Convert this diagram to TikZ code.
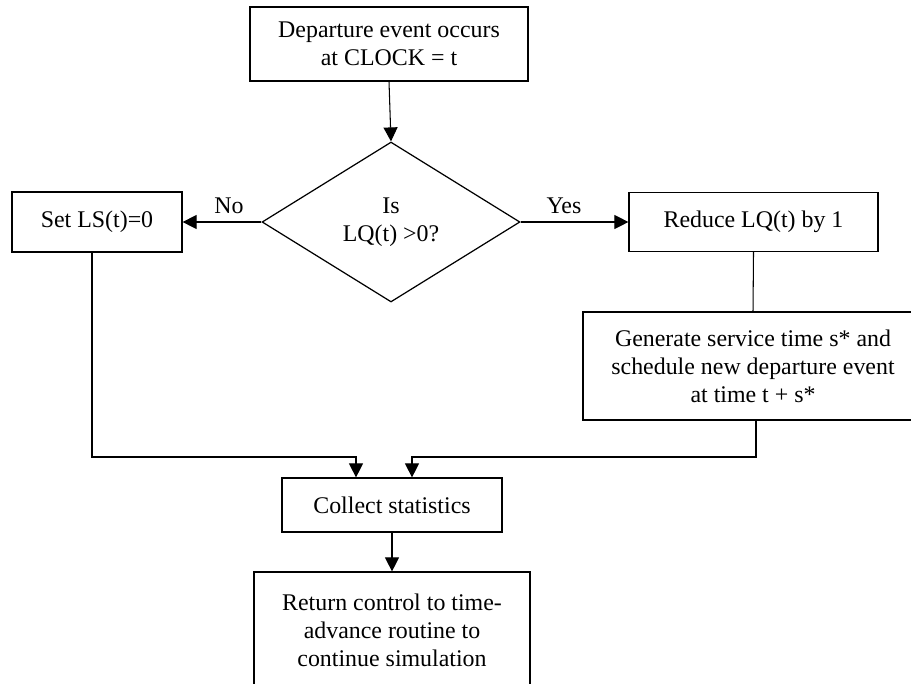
\documentclass[tikz,border=0pt]{standalone}
\usepackage{fontspec}
\setmainfont{Liberation Serif}
\usetikzlibrary{shapes.geometric, arrows.meta, positioning, calc}

\begin{document}
\begin{tikzpicture}[x=0.02cm, y=-0.02cm,
    every node/.style={font=\fontsize{13.6}{16}\selectfont},
    box/.style={draw, line width=0.7pt, inner sep=0pt, align=center},
    decision/.style={draw, diamond, line width=0.7pt, inner sep=0pt, align=center},
    arr/.style={line width=0.6pt, -{Triangle[length=0.28cm, width=0.28cm]}},
    ln/.style={line width=0.6pt}]
    \clip (0,0) rectangle (911,683);

    \node[box, minimum width=5.56cm, minimum height=1.48cm] (start) at (389,44) {Departure event occurs\\at CLOCK = t};
    \node[decision, minimum width=5.16cm, minimum height=3.2cm] (isq) at (391,222) {Is\\LQ(t) >0?};
    \node[box, minimum width=3.4cm, minimum height=1.2cm] (setls) at (97,222) {Set LS(t)=0};
    \node[box, minimum width=4.98cm, minimum height=1.18cm] (reduce) at (753.5,222) {Reduce LQ(t) by 1};
    \node[box, minimum width=6.8cm, minimum height=2.16cm] (gen) at (753,366) {Generate service time s* and\\schedule new departure event\\at time t + s*};
    \node[box, minimum width=4.4cm, minimum height=1.08cm] (collect) at (392,505) {Collect statistics};
    \node[box, minimum width=5.52cm, minimum height=2.32cm] (ret) at (392,630) {Return control to time-\\advance routine to\\continue simulation};

    \coordinate (jl) at (356,457);
    \coordinate (jr) at (412,457);

    \draw[arr] (start.south) -- (isq.north);
    \draw[arr] (isq.west) -- node[above=1pt, xshift=4pt] {No} (setls.east);
    \draw[arr] (isq.east) -- node[above=1pt, xshift=-6pt] {Yes} (reduce.west);
    \draw[ln] (reduce.south) -- (gen.north);
    \draw[arr] ([xshift=-0.1cm]setls.south) |- (jl) -- (jl |- collect.north);
    \draw[arr] ([xshift=0.06cm]gen.south) |- (jr) -- (jr |- collect.north);
    \draw[arr] (collect.south) -- (ret.north);
\end{tikzpicture}
\end{document}
